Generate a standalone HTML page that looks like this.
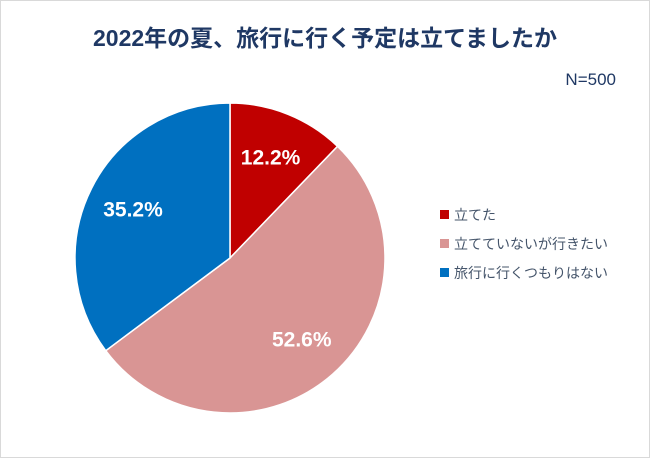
<!DOCTYPE html>
<html><head><meta charset="utf-8"><style>
body{margin:0;background:#fff;font-family:"Liberation Sans","Noto Sans CJK JP",sans-serif;}
#wrap{position:relative;width:650px;height:458px;overflow:hidden;}
</style></head><body>
<div id="wrap">
<svg id="svg" width="650" height="458" xmlns="http://www.w3.org/2000/svg">
<rect x="0.5" y="0.5" width="649" height="457" fill="#fff" stroke="#d9d9d9"/>
<text x="325" y="46" text-anchor="middle" font-size="23" font-weight="bold" fill="#1f3864" font-family="Liberation Sans, Noto Sans CJK JP, sans-serif">2022年の夏、旅行に行く予定は立てましたか</text>
<text x="616" y="85" text-anchor="end" font-size="17" fill="#1f3864" font-family="Liberation Sans, Noto Sans CJK JP, sans-serif">N=500</text>
<g id="slices"></g>
<g id="legend"></g>
</svg>
</div>
<script>
const categories=["立てた","立てていないが行きたい","旅行に行くつもりはない"];
const values=[12.2,52.6,35.2];
const colors=["#c00000","#d99594","#0070c0"];
const NS="http://www.w3.org/2000/svg";
const cx=230,cy=258,r=155;
const total=values.reduce((a,b)=>a+b,0);
const g=document.getElementById('slices');
const lg=document.getElementById('legend');
let a0=0;
function pt(a,rr){return [cx+rr*Math.sin(a),cy-rr*Math.cos(a)];}
values.forEach((v,i)=>{
  const a1=a0+v/total*2*Math.PI;
  const p0=pt(a0,r),p1=pt(a1,r);
  const large=(a1-a0)>Math.PI?1:0;
  const path=document.createElementNS(NS,'path');
  path.setAttribute('d',`M${cx},${cy} L${p0[0]},${p0[1]} A${r},${r} 0 ${large} 1 ${p1[0]},${p1[1]} Z`);
  path.setAttribute('fill',colors[i]);
  path.setAttribute('stroke','#fff');
  path.setAttribute('stroke-width','1.5');
  
  
  g.appendChild(path);
  const m=(a0+a1)/2;
  const lp=pt(m,r*0.7);
  const t=document.createElementNS(NS,'text');
  t.setAttribute('x',lp[0]);t.setAttribute('y',lp[1]+7);
  t.setAttribute('text-anchor','middle');
  t.setAttribute('font-size','21');t.setAttribute('font-weight','bold');
  t.setAttribute('fill','#fff');
  t.setAttribute('font-family','Liberation Sans, sans-serif');
  t.textContent=v.toFixed(1)+'%';
  
  
  g.appendChild(t);
  a0=a1;
  const y=215+i*29;
  const sq=document.createElementNS(NS,'rect');
  sq.setAttribute('x',440);sq.setAttribute('y',y-5);sq.setAttribute('width',9);sq.setAttribute('height',9);
  sq.setAttribute('fill',colors[i]);
  
  
  lg.appendChild(sq);
  const lt=document.createElementNS(NS,'text');
  lt.setAttribute('x',454);lt.setAttribute('y',y+5);
  lt.setAttribute('font-size','14');lt.setAttribute('fill','#44546a');
  lt.setAttribute('font-family','Liberation Sans, Noto Sans CJK JP, sans-serif');
  lt.textContent=categories[i];
  
  
  lg.appendChild(lt);
});
</script>
</body></html>
